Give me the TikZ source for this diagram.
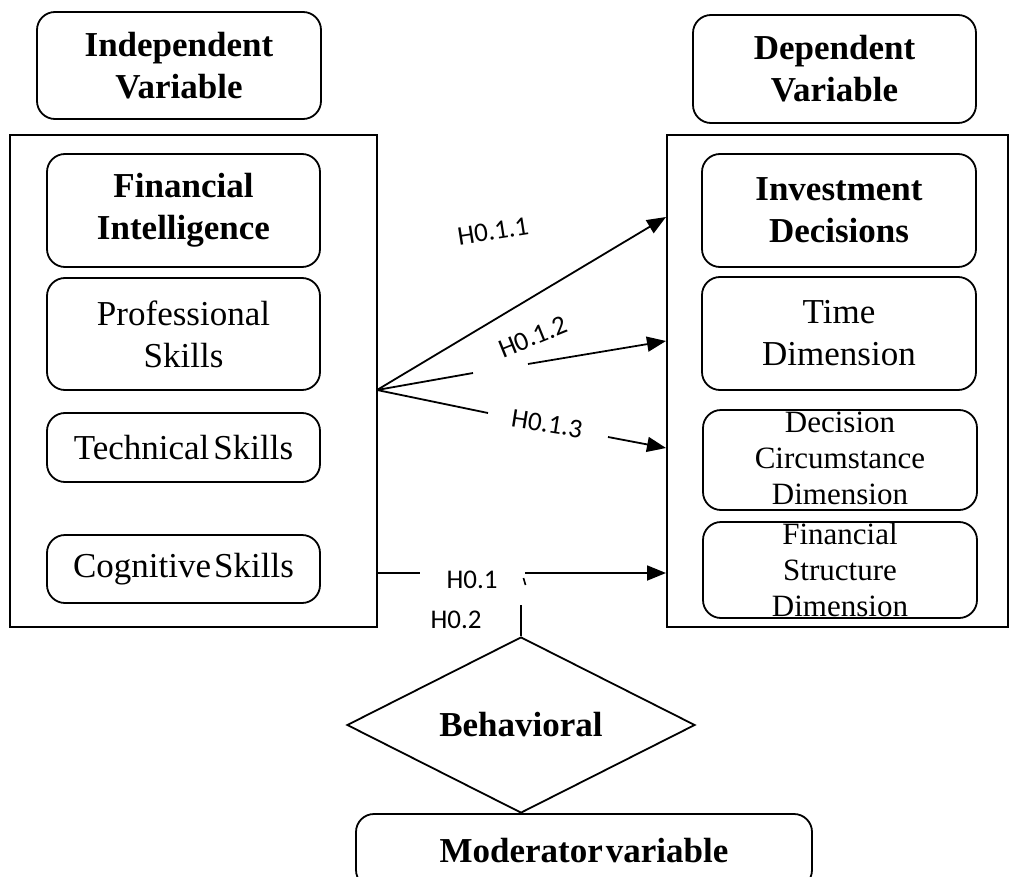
\documentclass[tikz,border=0pt]{standalone}
\usepackage{fontspec}
\setmainfont{Liberation Serif}
\newfontfamily\lblfont{Carlito}
\usetikzlibrary{arrows.meta,shapes.geometric}
\tikzset{
  box/.style={draw, line width=1.8pt, rounded corners=18pt, align=center, inner sep=0pt},
  frame/.style={draw, line width=1.8pt, inner sep=0pt},
  big/.style={font=\fontsize{35}{42}\selectfont},
  bigb/.style={font=\fontsize{35}{42}\selectfont\bfseries},
  small/.style={font=\fontsize{31}{36}\selectfont},
  conn/.style={line width=1.8pt},
  arr/.style={line width=1.8pt, -{Triangle[length=19pt,width=15pt]}},
  hlab/.style={font=\lblfont\fontsize{27}{30}\selectfont, inner sep=0pt}
}
\begin{document}
\begin{tikzpicture}[x=1pt,y=-1pt]
\useasboundingbox (0,0) rectangle (1019,877);
\clip (0,0) rectangle (1019,877);
% header boxes
\node[box, bigb, minimum width=284pt, minimum height=107pt] (indep) at (179,65.5) {Independent\\Variable};
\node[box, bigb, minimum width=283pt, minimum height=108pt] (dep) at (834.5,69) {Dependent\\Variable};
% frames
\node[frame, minimum width=367pt, minimum height=492pt] (left) at (193.5,381) {};
\node[frame, minimum width=341pt, minimum height=492pt] (right) at (837.5,381) {};
% left boxes
\node[box, bigb, minimum width=273pt, minimum height=113pt] (fi) at (183.5,210.5) {Financial\\Intelligence};
\node[box, big, minimum width=273pt, minimum height=112pt] (ps) at (183.5,334) {Professional\\Skills};
\node[box, big, minimum width=273pt, minimum height=69pt] (ts) at (183.5,447.5) {Technical\hspace{4pt}Skills};
\node[box, big, minimum width=273pt, minimum height=68pt] (cs) at (183.5,569) {Cognitive\hspace{3pt}Skills};
% right boxes
\node[box, bigb, minimum width=274pt, minimum height=113pt] (id) at (839,210.5) {Investment\\Decisions};
\node[box, big, minimum width=274pt, minimum height=113pt] (td) at (839,333.5) {Time\\Dimension};
\node[box, minimum width=274pt, minimum height=100pt] (dc) at (840,460) {};
\node[small, align=center, inner sep=0pt] (dct) at (840,458) {Decision\\Circumstance\\Dimension};
\node[box, minimum width=274pt, minimum height=96pt] (fs) at (840,570) {};
\node[small, align=center, inner sep=0pt] (fst) at (840,570) {Financial\\Structure\\Dimension};
% moderator
\node[draw, diamond, shape aspect=2, line width=1.8pt, inner sep=0pt, minimum width=348pt, minimum height=176pt, bigb] (beh) at (521,725) {Behavioral};
\node[box, bigb, minimum width=456pt, minimum height=74pt] (mod) at (584,851) {Moderator\hspace{3pt}variable};
% connectors
\coordinate (o) at (377,390);
\coordinate (a1) at (666,217);
\coordinate (b1) at (473,373);
\coordinate (b2) at (528,364);
\coordinate (a2) at (666,341);
\coordinate (c1) at (488,413);
\coordinate (c2) at (608,437);
\coordinate (a3) at (666,448);
\draw[arr] (o) -- (a1);
\draw[conn] (o) -- (b1);
\draw[arr] (b2) -- (a2);
\draw[conn] (o) -- (c1);
\draw[arr] (c2) -- (a3);
\node[hlab, rotate=9] (l1) at (493,231) {H0.1.1};
\node[hlab, rotate=22] (l2) at (533,337) {H0.1.2};
\node[hlab, rotate=-9] (l3) at (547,424) {H0.1.3};
% bottom path
\coordinate (d0) at (377,573);
\coordinate (d1) at (420,573);
\coordinate (d2) at (525,573);
\coordinate (d3) at (666,573);
\coordinate (v0) at (521,605);
\draw[conn] (d0) -- (d1);
\draw[arr] (d2) -- (d3);
\draw[conn] (v0) -- (beh.north);
\draw[line width=1.6pt] (523.5,578) -- (525.5,585);
\node[hlab] (h1) at (472,580) {H0.1};
\node[hlab] (h2) at (456,620) {H0.2};
\end{tikzpicture}
\end{document}
